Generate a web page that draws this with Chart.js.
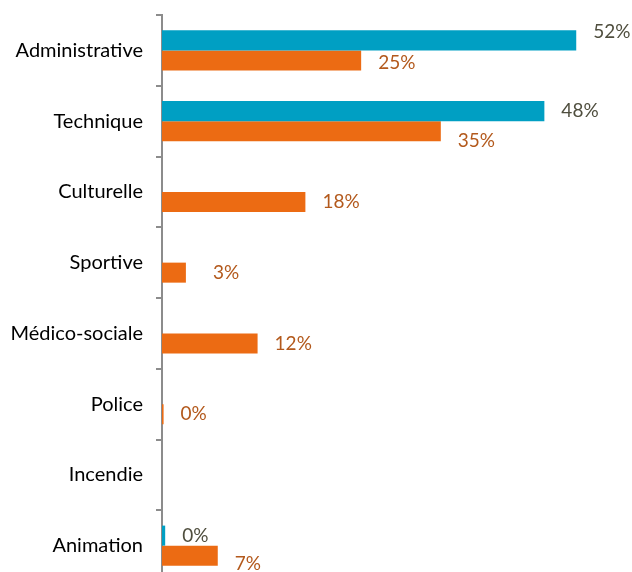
<!DOCTYPE html>
<html>
<head>
<meta charset="utf-8">
<script src="https://cdn.jsdelivr.net/npm/chart.js@4/dist/chart.umd.min.js"></script>
<style>
  html, body { margin: 0; padding: 0; background: #fff; overflow: hidden; }
  canvas { display: block; }
</style>
</head>
<body>
<canvas id="barChart" width="632" height="581"></canvas>
<script>
var categories = ['Administrative', 'Technique', 'Culturelle', 'Sportive', 'Médico-sociale', 'Police', 'Incendie', 'Animation'];
var blueValues = [52, 48, null, null, null, null, null, 0.4];
var orangeValues = [25, 35, 18, 3, 12, 0.2, null, 7];

var blue = "#009fc3";
var orange = "#ec6b13";

// hand nudges for a few labels, as placed in the original
var nudge = {
    "0-0": [0, -8],
    "1-0": [0, 2],
    "1-1": [0, 10],
    "1-3": [10, 0],
    "1-7": [0, 8]
};

var valueLabels = {
    id: 'valueLabels',
    afterDatasetsDraw: function (chart) {
        var ctx = chart.ctx;
        ctx.save();
        ctx.font = '19px Lato';
        ctx.textBaseline = 'middle';
        ctx.textAlign = 'left';
        chart.data.datasets.forEach(function (ds, di) {
            var meta = chart.getDatasetMeta(di);
            meta.data.forEach(function (bar, i) {
                var v = ds.data[i];
                if (v === null) return;
                var n = nudge[di + '-' + i] || [0, 0];
                ctx.fillStyle = di === 0 ? '#4f4e3e' : '#b3591c';
                ctx.fillText(Math.round(v) + '%', bar.x + 17 + n[0], bar.y + n[1]);
            });
        });
        ctx.restore();
    }
};

new Chart("barChart", {
    type: "bar",
    data: {
        labels: categories,
        datasets: [{
            backgroundColor: blue,
            data: blueValues
        }, {
            backgroundColor: orange,
            data: orangeValues
        }]
    },
    options: {
        indexAxis: 'y',
        responsive: false,
        animation: false,
        layout: { padding: { top: 15, right: 0, bottom: 0, left: 0 } },
        datasets: {
            bar: { categoryPercentage: 0.566, barPercentage: 1.0 }
        },
        scales: {
            x: {
                display: false,
                min: 0,
                max: 59
            },
            y: {
                afterFit: function (s) {
                    s.width = 162;
                    s.paddingTop = 0;
                    s.paddingBottom = 0;
                },
                border: { display: true, color: '#8c8c8c', width: 2 },
                grid: {
                    offset: true,
                    drawOnChartArea: false,
                    tickLength: 6,
                    color: '#8c8c8c',
                    lineWidth: 2
                },
                ticks: {
                    padding: 13,
                    color: '#000',
                    font: { family: 'Lato', size: 20 }
                }
            }
        },
        plugins: {
            legend: { display: false },
            tooltip: { enabled: false }
        }
    },
    plugins: [valueLabels]
});
</script>
</body>
</html>
